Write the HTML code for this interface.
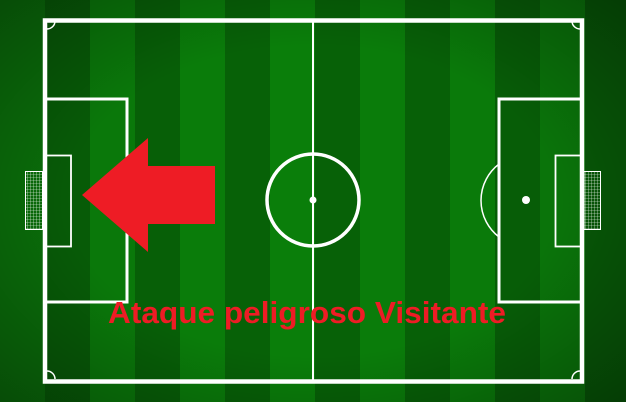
<!DOCTYPE html>
<html><head><meta charset="utf-8"><style>html,body{margin:0;padding:0;background:#0a5a0a}svg{display:block}</style></head>
<body>
<svg width="626" height="402" viewBox="0 0 626 402" xmlns="http://www.w3.org/2000/svg">
<defs>
<pattern id="net" width="3" height="3" patternUnits="userSpaceOnUse"><path d="M0 0H3M0 0V3" stroke="#fff" stroke-width="0.6" fill="none"/></pattern>
<radialGradient id="vig" cx="50%" cy="50%" r="70%"><stop offset="55%" stop-color="#000" stop-opacity="0"/><stop offset="100%" stop-color="#000" stop-opacity="0.3"/></radialGradient>
</defs>
<g id="stripes"></g>
<rect width="626" height="402" fill="url(#vig)"/>
<g fill="none" stroke="#fff">
<rect x="45" y="20.5" width="537" height="361" stroke-width="4.5"/>
<line x1="313" y1="20" x2="313" y2="382" stroke-width="2"/>
<circle cx="313" cy="200" r="46" stroke-width="3.5"/>
<rect x="45" y="99" width="82" height="203" stroke-width="3"/>
<rect x="45" y="155.5" width="26" height="91" stroke-width="1.8"/>
<rect x="499" y="99" width="83" height="203" stroke-width="3"/>
<rect x="555.5" y="155.5" width="26" height="91" stroke-width="1.8"/>
<path d="M499 164 A46 46 0 0 0 499 237" stroke-width="1.5"/>
<path d="M47 29 A8 8 0 0 0 55 21" stroke-width="1.5"/>
<path d="M580 29 A8 8 0 0 1 572 21" stroke-width="1.5"/>
<path d="M47 371 A8 8 0 0 1 55 379" stroke-width="1.5"/>
<path d="M580 371 A8 8 0 0 0 572 379" stroke-width="1.5"/>
</g>
<rect x="25.5" y="171.5" width="17" height="58" fill="url(#net)" stroke="#fff" stroke-width="1"/>
<rect x="584" y="171.5" width="16.5" height="58" fill="url(#net)" stroke="#fff" stroke-width="1"/>
<circle cx="313" cy="200" r="3.5" fill="#fff"/>
<circle cx="526" cy="200" r="4" fill="#fff"/>
<polygon points="82,195 148,138 148,166 215,166 215,224 148,224 148,252" fill="#ee1c25"/>
<text x="307" y="323" text-anchor="middle" font-family="Liberation Sans Narrow, Liberation Sans, sans-serif" font-weight="bold" font-size="31" fill="#ee1c25" textLength="398" lengthAdjust="spacingAndGlyphs">Ataque peligroso Visitante</text>
</svg>
<script>
const stripeShades = ['#0a6e0a','#075b07','#0a780a','#075f07','#0a7c0a','#076107','#0a7e0a','#076107','#0a7c0a','#076007','#0a7a0a','#075d07','#0a740a','#075807'];
const g = document.getElementById('stripes');
stripeShades.forEach((c,i)=>{
  const r = document.createElementNS('http://www.w3.org/2000/svg','rect');
  r.setAttribute('x', i*45); r.setAttribute('y', 0);
  r.setAttribute('width', 46); r.setAttribute('height', 402);
  r.setAttribute('fill', c);
  
  
  g.appendChild(r);
});
</script>
</body></html>
